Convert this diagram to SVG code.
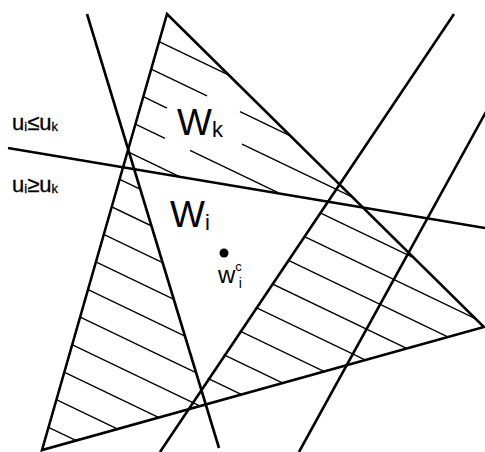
<svg xmlns="http://www.w3.org/2000/svg" width="485" height="452" viewBox="0 0 485 452">
<style>
.ln{stroke:#000;stroke-width:2.6;fill:none;stroke-linecap:butt}
.h{stroke:#000;stroke-width:1.4;fill:none}
.t{font-family:"Liberation Sans",Arial,sans-serif;fill:#000}
.s{font-family:"Liberation Sans",Arial,sans-serif;fill:#000;stroke:#000;stroke-width:0.3}
</style>
<defs>
<clipPath id="hc">
<polygon points="123.1,167.1 134.1,168.9 205.7,404.5 42,450"/>
<polygon points="327.6,201 361.6,206.7 484,327 186.4,409.9"/>
</clipPath>
</defs>
<rect width="485" height="452" fill="#fff"/>
<g id="hatching">
<g clip-path="url(#hc)" class="h">
<line x1="0" y1="59.2" x2="485" y2="292"/>
<line x1="0" y1="90.5" x2="485" y2="323.3"/>
<line x1="0" y1="121.9" x2="485" y2="354.7"/>
<line x1="0" y1="153.2" x2="485" y2="386"/>
<line x1="0" y1="184.6" x2="485" y2="417.4"/>
<line x1="0" y1="215.9" x2="485" y2="448.7"/>
<line x1="0" y1="247.3" x2="485" y2="480.1"/>
<line x1="0" y1="278.6" x2="485" y2="511.4"/>
<line x1="0" y1="310" x2="485" y2="542.8"/>
<line x1="0" y1="341.3" x2="485" y2="574.1"/>
<line x1="0" y1="372.6" x2="485" y2="605.4"/>
<line x1="0" y1="404" x2="485" y2="636.8"/>
</g>
<g class="h">
<line x1="159.1" y1="41.6" x2="228.4" y2="74.8"/>
<line x1="151.2" y1="69.1" x2="207" y2="95.9"/>
<line x1="240" y1="111.7" x2="289.9" y2="135.7"/>
<line x1="143.3" y1="96.7" x2="167" y2="108.1"/>
<line x1="242" y1="144.1" x2="351" y2="196.4"/>
<line x1="135.4" y1="124.2" x2="165" y2="138.4"/>
<line x1="190" y1="150.4" x2="278.6" y2="192.9"/>
<line x1="127.5" y1="151.7" x2="179" y2="176.4"/>
</g>
</g>
<g id="connectors">
<path class="ln" d="M167,14 L42,450 L484,327 Z"/>
<line class="ln" x1="87" y1="14" x2="219" y2="448"/>
<line class="ln" x1="454" y1="14" x2="160" y2="452"/>
<line class="ln" x1="487" y1="110" x2="299" y2="452"/>
<line class="ln" x1="8" y1="148" x2="485" y2="228"/>
</g>
<g id="labels">
<text class="s" x="12" y="130" font-size="22">u<tspan font-size="13" dy="1">i</tspan><tspan dy="-1">≤u</tspan><tspan font-size="13" dy="1">k</tspan></text>
<text class="s" x="12" y="192" font-size="22">u<tspan font-size="13" dy="1">i</tspan><tspan dy="-1">≥u</tspan><tspan font-size="13" dy="1">k</tspan></text>
<text class="t" x="177" y="135" font-size="37">W<tspan font-size="22" dy="2">k</tspan></text>
<text class="t" x="170" y="227" font-size="37">W<tspan font-size="22" dy="3">i</tspan></text>
<circle cx="224" cy="253" r="4.5"/>
<text class="t" x="218" y="283" font-size="24">w<tspan font-size="13" dy="-12">c</tspan><tspan font-size="14" dx="-3" dy="17">i</tspan></text>
</g>
</svg>
